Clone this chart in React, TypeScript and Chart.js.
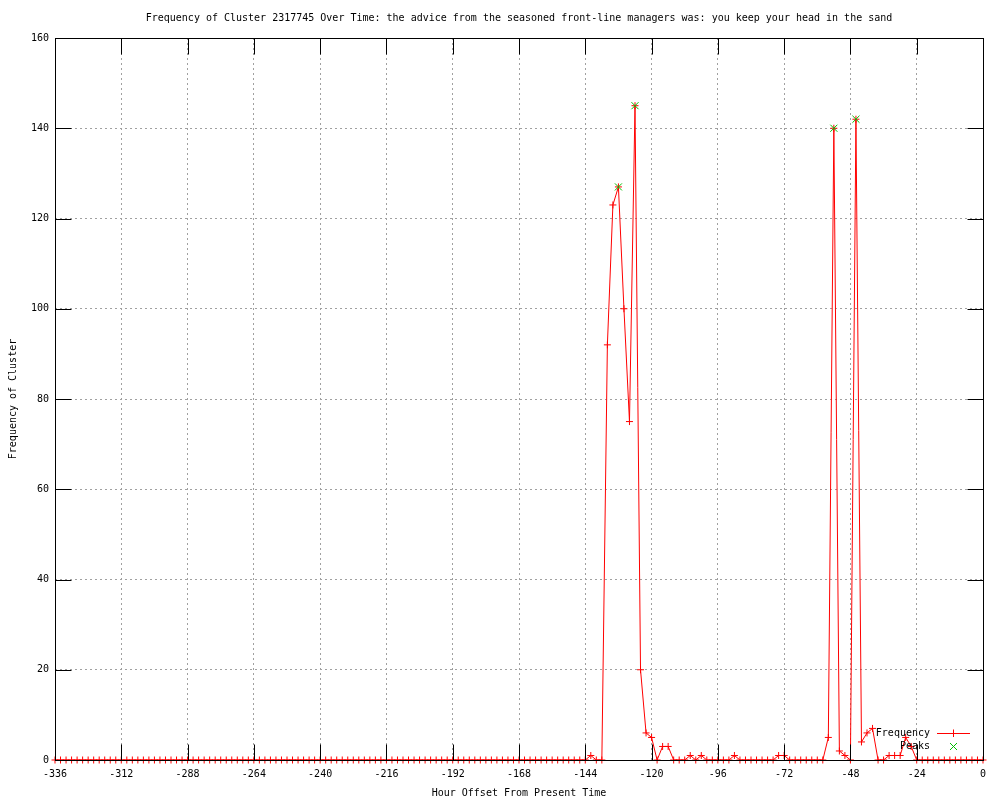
import React, { useEffect, useRef } from "react";
import { Chart, registerables } from "chart.js";

Chart.register(...registerables);

const TITLE =
  "Frequency of Cluster 2317745 Over Time: the advice from the seasoned front-line managers was: you keep your head in the sand";
const X_LABEL = "Hour Offset From Present Time";
const Y_LABEL = "Frequency of Cluster";
const FREQ_LABEL = "Frequency";
const PEAKS_LABEL = "Peaks";

const hours = [
  -336, -334, -332, -330, -328, -326, -324, -322, -320, -318, -316, -314,
  -312, -310, -308, -306, -304, -302, -300, -298, -296, -294, -292, -290,
  -288, -286, -284, -282, -280, -278, -276, -274, -272, -270, -268, -266,
  -264, -262, -260, -258, -256, -254, -252, -250, -248, -246, -244, -242,
  -240, -238, -236, -234, -232, -230, -228, -226, -224, -222, -220, -218,
  -216, -214, -212, -210, -208, -206, -204, -202, -200, -198, -196, -194,
  -192, -190, -188, -186, -184, -182, -180, -178, -176, -174, -172, -170,
  -168, -166, -164, -162, -160, -158, -156, -154, -152, -150, -148, -146,
  -144, -142, -140, -138, -136, -134, -132, -130, -128, -126, -124, -122,
  -120, -118, -116, -114, -112, -110, -108, -106, -104, -102, -100, -98,
  -96, -94, -92, -90, -88, -86, -84, -82, -80, -78, -76, -74,
  -72, -70, -68, -66, -64, -62, -60, -58, -56, -54, -52, -50,
  -48, -46, -44, -42, -40, -38, -36, -34, -32, -30, -28, -26,
  -24, -22, -20, -18, -16, -14, -12, -10, -8, -6, -4, -2,
  0,
];

const frequency = [
  0, 0, 0, 0, 0, 0, 0, 0, 0, 0, 0, 0,
  0, 0, 0, 0, 0, 0, 0, 0, 0, 0, 0, 0,
  0, 0, 0, 0, 0, 0, 0, 0, 0, 0, 0, 0,
  0, 0, 0, 0, 0, 0, 0, 0, 0, 0, 0, 0,
  0, 0, 0, 0, 0, 0, 0, 0, 0, 0, 0, 0,
  0, 0, 0, 0, 0, 0, 0, 0, 0, 0, 0, 0,
  0, 0, 0, 0, 0, 0, 0, 0, 0, 0, 0, 0,
  0, 0, 0, 0, 0, 0, 0, 0, 0, 0, 0, 0,
  0, 1, 0, 0, 92, 123, 127, 100, 75, 145, 20, 6,
  5, 0, 3, 3, 0, 0, 0, 1, 0, 1, 0, 0,
  0, 0, 0, 1, 0, 0, 0, 0, 0, 0, 0, 1,
  1, 0, 0, 0, 0, 0, 0, 0, 5, 140, 2, 1,
  0, 142, 4, 6, 7, 0, 0, 1, 1, 1, 5, 3,
  0, 0, 0, 0, 0, 0, 0, 0, 0, 0, 0, 0,
  0,
];

const peakHours = [-132, -126, -54, -46];
const peakValues = [127, 145, 140, 142];

const xTickValues = [-336, -312, -288, -264, -240, -216, -192, -168, -144, -120, -96, -72, -48, -24, 0];
const yTickValues = [0, 20, 40, 60, 80, 100, 120, 140, 160];

const FONT = '"DejaVu Sans Mono", "Liberation Mono", monospace';
const RED = "#ff0000";
const GREEN = "#00c000";
const GRID = "#a0a0a0";
const TICK_LEN = 16;

const framePlugin = {
  id: "gnuplotFrame",
  afterDatasetsDraw(chart: any) {
    const { ctx, chartArea, scales } = chart;
    const l = Math.round(chartArea.left) + 0.5;
    const r = Math.round(chartArea.right) + 0.5;
    const t = Math.round(chartArea.top) + 0.5;
    const b = Math.round(chartArea.bottom) + 0.5;
    ctx.save();
    ctx.strokeStyle = "#000000";
    ctx.lineWidth = 1;
    ctx.setLineDash([]);
    ctx.beginPath();
    xTickValues.forEach((v) => {
      const x = Math.round(scales.x.getPixelForValue(v)) + 0.5;
      ctx.moveTo(x, b);
      ctx.lineTo(x, b - TICK_LEN);
      ctx.moveTo(x, t);
      ctx.lineTo(x, t + TICK_LEN);
    });
    yTickValues.forEach((v) => {
      const y = Math.round(scales.y.getPixelForValue(v)) + 0.5;
      ctx.moveTo(l, y);
      ctx.lineTo(l + TICK_LEN, y);
      ctx.moveTo(r, y);
      ctx.lineTo(r - TICK_LEN, y);
    });
    ctx.stroke();
    ctx.strokeRect(l, t, r - l, b - t);
    ctx.restore();
  },
};

const legendPlugin = {
  id: "gnuplotKey",
  afterDraw(chart: any) {
    const { ctx, chartArea } = chart;
    const textRight = chartArea.right - 53;
    const sampleL = chartArea.right - 46;
    const sampleR = chartArea.right - 13;
    const sampleMid = chartArea.right - 30;
    const y1 = chartArea.bottom - 27;
    const y2 = chartArea.bottom - 14;
    ctx.save();
    ctx.font = `10px ${FONT}`;
    ctx.fillStyle = "#000000";
    ctx.textAlign = "right";
    ctx.textBaseline = "middle";
    ctx.fillText(FREQ_LABEL, textRight, y1);
    ctx.fillText(PEAKS_LABEL, textRight, y2);
    ctx.lineWidth = 1;
    ctx.strokeStyle = RED;
    ctx.beginPath();
    ctx.moveTo(sampleL, y1 + 0.5);
    ctx.lineTo(sampleR, y1 + 0.5);
    ctx.moveTo(sampleMid + 0.5, y1 - 3.5);
    ctx.lineTo(sampleMid + 0.5, y1 + 4);
    ctx.stroke();
    ctx.strokeStyle = GREEN;
    ctx.beginPath();
    const d = 3.5;
    ctx.moveTo(sampleMid - d + 0.5, y2 - d + 0.5);
    ctx.lineTo(sampleMid + d + 0.5, y2 + d + 0.5);
    ctx.moveTo(sampleMid - d + 0.5, y2 + d + 0.5);
    ctx.lineTo(sampleMid + d + 0.5, y2 - d + 0.5);
    ctx.stroke();
    ctx.restore();
  },
};

export default function App() {
  const canvasRef = useRef<HTMLCanvasElement | null>(null);

  useEffect(() => {
    if (!canvasRef.current) return;
    const freqPoints = hours.map((h, i) => ({ x: h, y: frequency[i] }));
    const peakPoints = peakHours.map((h, i) => ({ x: h, y: peakValues[i] }));

    const chart = new Chart(canvasRef.current, {
      type: "line",
      data: {
        datasets: [
          {
            label: PEAKS_LABEL,
            data: peakPoints,
            showLine: false,
            borderColor: GREEN,
            backgroundColor: GREEN,
            pointStyle: "crossRot",
            pointRadius: 5,
            pointBorderWidth: 1,
            pointBorderColor: GREEN,
            clip: false,
          } as any,
          {
            label: FREQ_LABEL,
            data: freqPoints,
            borderColor: RED,
            backgroundColor: RED,
            borderWidth: 1,
            pointStyle: "cross",
            pointRadius: 3.5,
            pointBorderWidth: 1,
            pointBorderColor: RED,
            tension: 0,
            clip: false,
          } as any,
        ],
      },
      options: {
        responsive: false,
        animation: false,
        devicePixelRatio: 1,
        layout: { padding: { left: 0, right: 17, top: 0, bottom: 0 } },
        plugins: {
          legend: { display: false },
          tooltip: { enabled: false },
          title: {
            display: true,
            text: TITLE,
            fullSize: false,
            color: "#000000",
            font: { family: FONT, size: 10, weight: "normal", lineHeight: 1.2 },
            padding: { top: 12, bottom: 14 },
          },
        },
        scales: {
          x: {
            type: "linear",
            min: -336,
            max: 0,
            afterFit: (scale: any) => {
              scale.height = 40;
            },
            ticks: {
              stepSize: 24,
              autoSkip: false,
              maxRotation: 0,
              padding: 8,
              color: "#000000",
              font: { family: FONT, size: 10 },
              callback: (v: any) => String(v),
            },
            grid: { color: GRID, lineWidth: 1, drawTicks: false },
            border: { display: false, dash: [2, 3] },
            title: {
              display: true,
              text: X_LABEL,
              color: "#000000",
              font: { family: FONT, size: 10, lineHeight: 1.2 },
              padding: { top: 0, bottom: 1 },
            },
          },
          y: {
            type: "linear",
            min: 0,
            max: 160,
            afterFit: (scale: any) => {
              scale.width = 55;
            },
            ticks: {
              stepSize: 20,
              autoSkip: false,
              padding: 6,
              color: "#000000",
              font: { family: FONT, size: 10 },
              callback: (v: any) => String(v),
            },
            grid: { color: GRID, lineWidth: 1, drawTicks: false },
            border: { display: false, dash: [2, 3] },
            title: {
              display: true,
              text: Y_LABEL,
              color: "#000000",
              font: { family: FONT, size: 10, lineHeight: 1.2 },
              padding: { top: 7, bottom: 0 },
            },
          },
        },
      },
      plugins: [framePlugin, legendPlugin],
    } as any);

    return () => chart.destroy();
  }, []);

  return (
    <div style={{ position: "absolute", left: 0, top: 0, width: 1000, height: 800, background: "#ffffff" }}>
      <canvas ref={canvasRef} width={1000} height={800} />
    </div>
  );
}
